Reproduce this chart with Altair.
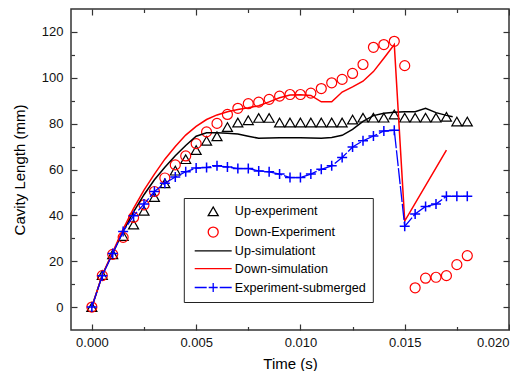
import altair as alt
import pandas as pd

# ---------------- data ----------------
SERIES = ["Up-experiment", "Down-Experiment", "Up-simulationt", "Down-simulation", "Experiment-submerged"]
COLORS = ["#000000", "#ff0000", "#000000", "#ff0000", "#0000ff"]
SHAPES = ["triangle-up", "circle", "M-3.7,0H3.7", "M-3.7,0H3.7",
          "M-3.7,0H-1.3M-0.9,0H0.9M0,-0.9V0.9M1.3,0H3.7"]

t_exp = [0.0, 0.0005, 0.001, 0.0015, 0.002, 0.0025, 0.003, 0.0035, 0.004, 0.0045,
         0.005, 0.0055, 0.006, 0.0065, 0.007, 0.0075, 0.008, 0.0085, 0.009, 0.0095,
         0.010, 0.0105, 0.011, 0.0115, 0.012, 0.0125, 0.013, 0.0135, 0.014, 0.0145,
         0.015, 0.0155, 0.016, 0.0165, 0.017, 0.0175, 0.018]

up_exp = [0, 14, 23, 31, 36, 42, 48, 54, 59.5, 64.5,
          68.5, 72.5, 74.5, 78.5, 80.5, 81.5, 82.5, 82.5, 80.5, 80.5,
          80.5, 80.5, 80.5, 80.5, 80.5, 81.8, 82.6, 82.6, 82.6, 84,
          82.6, 82.6, 82.6, 82.6, 83, 80.9, 80.9]

down_exp = [0, 13.7, 23, 30.4, 39.1, 44.6, 50.4, 56.3, 62, 65.9,
            71.3, 76.4, 80.1, 84, 86.7, 88.7, 89.4, 90.6, 92, 92.7,
            92.7, 93.3, 95.3, 97.8, 99.3, 101.9, 105.8, 113.3, 114.5, 115.9,
            105.3, 8.4, 12.6, 13.0, 13.7, 18.5, 22.4]

submerged = [0, 13.7, 23.4, 33, 39.8, 44.9, 50.4, 54, 56.7, 59,
             60.6, 60.9, 61.6, 61.1, 60.4, 60.4, 59.4, 59, 58, 56.5,
             56.5, 58, 60.1, 61.6, 65.2, 69.8, 72.5, 74.6, 76.8, 77.1,
             35.2, 40.6, 43.9, 44.9, 48.3, 48.3, 48.3]

t_up_sim = [0, 0.0005, 0.001, 0.0015, 0.002, 0.0025, 0.003, 0.0035, 0.004, 0.0045,
            0.005, 0.0055, 0.006, 0.0065, 0.007, 0.0075, 0.008, 0.009, 0.010, 0.011,
            0.0115, 0.012, 0.0125, 0.013, 0.0135, 0.014, 0.0145, 0.015, 0.0155, 0.016,
            0.0165, 0.017, 0.0173]
up_sim = [0, 14, 23.5, 33, 41.5, 49, 55.5, 61, 66, 70.5,
          74.5, 76, 76, 75.8, 75.5, 74.5, 73.6, 73.8, 73.8, 73.6,
          74, 74.9, 77.5, 81, 83.5, 84.5, 85, 85.2, 85.2, 86.7,
          84.8, 83.6, 83]

t_down_sim = [0, 0.0005, 0.001, 0.0015, 0.002, 0.0025, 0.003, 0.0035, 0.004, 0.0045,
              0.005, 0.0055, 0.006, 0.0065, 0.007, 0.0075, 0.008, 0.0085, 0.009, 0.0095,
              0.010, 0.0105, 0.011, 0.0115, 0.012, 0.0125, 0.013, 0.0135, 0.014, 0.0145,
              0.015, 0.017]
down_sim = [0, 14, 24, 34, 43, 51, 58, 64.5, 70, 75,
            78.8, 81.8, 83.8, 85.2, 86.2, 86.9, 87.8, 89.5, 91.3, 92.5,
            92.6, 92.3, 89.5, 89.5, 93.8, 96, 98.5, 102.7, 108.5, 114.5,
            37.5, 68.4]

x_major = [0.0, 0.005, 0.010, 0.015, 0.020]
x_minor = [0.0025, 0.0075, 0.0125, 0.0175]
y_major = [0, 20, 40, 60, 80, 100, 120]
y_minor = [10, 30, 50, 70, 90, 110]

# ---------------- tables ----------------
pts = pd.DataFrame({
    "t": t_exp + t_exp,
    "v": up_exp + down_exp,
    "series": [SERIES[0]] * len(t_exp) + [SERIES[1]] * len(t_exp),
})
sub = pd.DataFrame({"t": t_exp, "v": submerged, "series": SERIES[4]})
ups = pd.DataFrame({"t": t_up_sim, "v": up_sim, "series": SERIES[2]})
dns = pd.DataFrame({"t": t_down_sim, "v": down_sim, "series": SERIES[3]})

xscale = alt.Scale(domain=[-0.001, 0.020], nice=False, zero=False)
yscale = alt.Scale(domain=[-10, 130], nice=False, zero=False)
cscale = alt.Scale(domain=SERIES, range=COLORS)
sscale = alt.Scale(domain=SERIES, range=SHAPES)

FONT = "Liberation Sans"


def xaxis(orient, values, size, labels=False, title=None):
    kw = dict(orient=orient, values=values, tickSize=alt.ExprRef(expr=size),
              domain=False, grid=False, labels=labels, title=title)
    if labels:
        kw.update(format=".3f", labelPadding=12, titlePadding=7)
    return alt.Axis(**kw)


def yaxis(orient, values, size, labels=False, title=None):
    kw = dict(orient=orient, values=values, tickSize=alt.ExprRef(expr=size),
              domain=False, grid=False, labels=labels, title=title)
    if labels:
        kw.update(format="d", labelPadding=14, titlePadding=14)
    return alt.Axis(**kw)


legend = alt.Legend(orient="none", legendX=112.8, legendY=189, title=None)

markers = alt.Chart(pts).mark_point(size=100, filled=False, strokeWidth=1.2, opacity=1).encode(
    x=alt.X("t:Q", scale=xscale, axis=None),
    y=alt.Y("v:Q", scale=yscale, axis=None),
    color=alt.Color("series:N", scale=cscale, legend=legend),
    shape=alt.Shape("series:N", scale=sscale, legend=legend),
)
black = alt.Chart(ups).mark_line(strokeWidth=1.5).encode(
    x=alt.X("t:Q", scale=xscale, axis=xaxis("bottom", x_major, "-6", True, "Time (s)")),
    y=alt.Y("v:Q", scale=yscale, axis=yaxis("left", y_major, "-6", True, "Cavity Length (mm)")),
    color=alt.Color("series:N", scale=cscale, legend=None),
)
red = alt.Chart(dns).mark_line(strokeWidth=1.5).encode(
    x=alt.X("t:Q", scale=xscale, axis=xaxis("bottom", x_minor, "-3.5")),
    y=alt.Y("v:Q", scale=yscale, axis=yaxis("left", y_minor, "-3.5")),
    color=alt.Color("series:N", scale=cscale, legend=None),
)
blue = alt.Chart(sub).mark_line(strokeWidth=1.3, strokeDash=[16, 2]).encode(
    x=alt.X("t:Q", scale=xscale, axis=xaxis("top", x_major, "-6")),
    y=alt.Y("v:Q", scale=yscale, axis=yaxis("right", y_major, "-6")),
    color=alt.Color("series:N", scale=cscale, legend=None),
)
plus = alt.Chart(sub).mark_point(shape="M-1,0H1M0,-1V1", size=100, filled=False,
                                 strokeWidth=1.5, opacity=1).encode(
    x=alt.X("t:Q", scale=xscale, axis=xaxis("top", x_minor, "-3.5")),
    y=alt.Y("v:Q", scale=yscale, axis=yaxis("right", y_minor, "-3.5")),
    color=alt.Color("series:N", scale=cscale, legend=None),
)

chart = alt.layer(markers, black, red, blue, plus).resolve_axis(
    x="independent", y="independent"
).properties(
    width=438, height=321,
    padding={"left": 4, "top": 0, "right": 0, "bottom": 0},
).configure_view(
    stroke="#333333", strokeWidth=1.5
).configure_axis(
    tickColor="#333333", tickWidth=1.2,
    labelFont=FONT, labelFontSize=13, labelColor="#111111",
    titleFont=FONT, titleFontSize=15, titleFontWeight="normal", titleColor="#000000",
).configure_legend(
    labelFont=FONT, labelFontSize=12.6, labelColor="#000000",
    strokeColor="#222222", fillColor="#ffffff", padding=7,
    rowPadding=4.8, symbolOffset=16.1, labelOffset=15.3,
    symbolSize=100, symbolStrokeWidth=1.3,
)

chart.save("out.html", embed_options={"renderer": "svg", "actions": False})
